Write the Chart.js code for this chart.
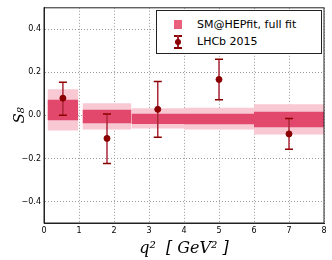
<!DOCTYPE html>
<html>
<head>
<meta charset="utf-8">
<script src="https://cdn.jsdelivr.net/npm/chart.js@4/dist/chart.umd.min.js"></script>
<style>
  body { margin: 0; background: #fff; }
  #wrap { position: relative; width: 332px; height: 260px; }
  #legend {
    position: absolute; left: 156px; top: 10px; width: 164px; height: 42px;
    border: 1px solid #222; background: #fff;
    font-family: "DejaVu Sans", sans-serif; font-size: 11px; color: #000;
  }
  .row { position: absolute; left: 0; height: 16px; line-height: 16px; }
  .sq { position: absolute; left: 17px; top: 3px; width: 8px; height: 9px; background: #e8607c; }
  .lbl { position: absolute; left: 40px; white-space: nowrap; }
  .eb { position: absolute; left: 17px; top: 0; width: 8px; height: 16px; }
</style>
</head>
<body>
<div id="wrap">
  <canvas id="myChart" width="332" height="260"></canvas>
  <div id="legend">
    <div class="row" style="top:6px"><div class="sq"></div><span class="lbl">SM@HEPfit, full fit</span></div>
    <div class="row" style="top:23px">
      <div class="eb">
        <div style="position:absolute;left:0;top:1px;width:8px;height:2px;background:#8b0000"></div>
        <div style="position:absolute;left:3px;top:1px;width:2px;height:14px;background:#a02030"></div>
        <div style="position:absolute;left:1px;top:5px;width:6px;height:6px;border-radius:3px;background:#8b0000"></div>
        <div style="position:absolute;left:0;top:13px;width:8px;height:2px;background:#8b0000"></div>
      </div>
      <span class="lbl">LHCb 2015</span>
    </div>
  </div>
</div>
<script>
// q^2 bins of the SM prediction
var binLo = [0.1, 1.1, 2.5, 4.0, 6.0]
var binHi = [0.98, 2.5, 4.0, 6.0, 8.0]
// 68% band
var innerHi = [0.073, 0.026, 0.008, 0.008, 0.017]
var innerLo = [-0.023, -0.037, -0.040, -0.041, -0.055]
// 95% band
var outerHi = [0.122, 0.056, 0.033, 0.035, 0.052]
var outerLo = [-0.070, -0.066, -0.061, -0.066, -0.089]

// LHCb 2015 measurement
var lhcbX = [0.54, 1.8, 3.25, 5.0, 7.0]
var lhcbY = [0.080, -0.107, 0.028, 0.167, -0.086]
var lhcbUp = [0.074, 0.114, 0.129, 0.094, 0.072]
var lhcbDown = [0.079, 0.117, 0.130, 0.094, 0.071]

var yTicks = [-0.4, -0.2, 0.0, 0.2, 0.4]

var innerColor = "#e2486c"
var outerColor = "#f8c8d3"
var pointColor = "#8b0000"
var barColor = "#a82838"

var datasets = []

// central points first so they sit on top
datasets.push({
    data: lhcbX.map(function (x, i) { return { x: x, y: lhcbY[i] } }),
    pointRadius: 3,
    pointBackgroundColor: pointColor,
    pointBorderColor: pointColor,
    showLine: false
})

for (var i = 0; i < lhcbX.length; i++) {
    datasets.push({
        data: [{ x: lhcbX[i], y: lhcbY[i] - lhcbDown[i] }, { x: lhcbX[i], y: lhcbY[i] + lhcbUp[i] }],
        showLine: true,
        borderColor: barColor,
        borderWidth: 1.5,
        pointStyle: "line",
        pointRadius: 4,
        pointBorderColor: pointColor,
        pointBorderWidth: 1.5,
        fill: false
    })
}

function addBand(hi, lo, color) {
    for (var i = 0; i < binLo.length; i++) {
        datasets.push({
            data: [{ x: binLo[i], y: hi[i] }, { x: binHi[i], y: hi[i] }],
            showLine: true,
            borderWidth: 0,
            pointRadius: 0,
            backgroundColor: color,
            fill: "+1"
        })
        datasets.push({
            data: [{ x: binLo[i], y: lo[i] }, { x: binHi[i], y: lo[i] }],
            showLine: true,
            borderWidth: 0,
            pointRadius: 0,
            fill: false
        })
    }
}
addBand(innerHi, innerLo, innerColor)
addBand(outerHi, outerLo, outerColor)

var frame = {
    id: "frame",
    afterDraw: function (chart) {
        var a = chart.chartArea
        var ctx = chart.ctx
        ctx.save()
        ctx.strokeStyle = "#222"
        ctx.lineWidth = 1
        ctx.strokeRect(a.left, a.top, a.right - a.left, a.bottom - a.top)
        ctx.restore()
    }
}

var tickFont = { family: "DejaVu Sans", size: 8 }

new Chart("myChart", {
    type: "scatter",
    data: { datasets: datasets },
    options: {
        responsive: false,
        animation: false,
        layout: { padding: { top: 4, right: 8, left: 0, bottom: 0 } },
        plugins: {
            legend: { display: false },
            tooltip: { enabled: false }
        },
        scales: {
            x: {
                type: "linear",
                min: 0,
                max: 8,
                z: 1,
                afterFit: function (s) { s.height = 37 },
                ticks: { stepSize: 1, color: "#000", font: tickFont, padding: 3 },
                grid: { color: "#999", drawTicks: false },
                border: { color: "#222", dash: [1, 2] },
                title: {
                    display: true,
                    text: "q²  [ GeV² ]",
                    color: "#000",
                    font: { family: "DejaVu Serif", style: "italic", size: 16 },
                    padding: { top: 0, bottom: 2 }
                }
            },
            y: {
                min: -0.5,
                max: 0.5,
                z: 1,
                afterFit: function (s) { s.width = 44 },
                afterBuildTicks: function (s) {
                    s.ticks = yTicks.map(function (v) { return { value: v } })
                },
                ticks: {
                    color: "#000",
                    font: tickFont,
                    padding: 3,
                    callback: function (v) { return v.toFixed(1).replace("-", "\u2212") }
                },
                grid: { color: "#999", drawTicks: false },
                border: { color: "#222", dash: [1, 2] },
                title: {
                    display: true,
                    text: "S₈",
                    color: "#000",
                    font: { family: "DejaVu Serif", style: "italic", size: 15 },
                    padding: { top: 11, bottom: 0 }
                }
            }
        }
    },
    plugins: [frame]
});
</script>
</body>
</html>
